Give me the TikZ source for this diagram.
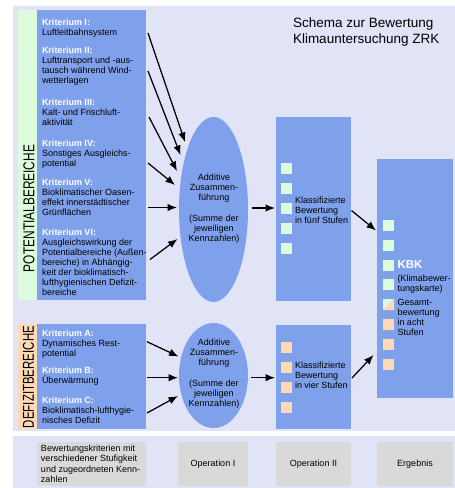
\documentclass[tikz,border=0pt]{standalone}
\usepackage{fontspec}
\usepackage{graphicx}
\setmainfont{Liberation Sans}
\usetikzlibrary{arrows.meta,shapes.geometric}
\definecolor{lav}{HTML}{E1E3F7}
\definecolor{bluebox}{HTML}{7FA0EA}
\definecolor{pgreen}{HTML}{DCFCDC}
\definecolor{peach}{HTML}{FDD9B5}
\definecolor{grayb}{HTML}{D9D9D9}
\newcommand{\hdr}[1]{\textbf{\textcolor{white}{#1}}}
\begin{document}
\begin{tikzpicture}[x=1pt,y=-1pt,
  panel/.style={fill=#1, inner sep=0pt, outer sep=0pt, anchor=north west, draw=none},
  ovalshape/.style={ellipse, fill=bluebox, inner sep=0pt, outer sep=0pt, draw=none, minimum width=69pt},
  txt/.style={inner sep=0pt, outer sep=0pt, align=left, anchor=base west, font=\fontsize{9}{10}\selectfont},
  ctxt/.style={inner sep=0pt, outer sep=0pt, align=center, anchor=base, font=\fontsize{9}{10}\selectfont},
  arr/.style={draw, line width=1.25pt, -{Latex[length=9.5pt,width=7.5pt]}}
]
\useasboundingbox (0,0) rectangle (455,488);

% panels
\node[panel=lav, minimum width=442pt, minimum height=425pt] (toppanel) at (13,6) {};
\node[panel=lav, minimum width=442pt, minimum height=52pt] (botpanel) at (13,436) {};

% left column
\node[panel=pgreen, minimum width=19pt, minimum height=290pt] (gstrip) at (18,10) {};
\node[panel=bluebox, minimum width=109pt, minimum height=290pt] (critP) at (37,10) {};
\node[panel=peach, minimum width=19pt, minimum height=105pt] (ostrip) at (18,324) {};
\node[panel=bluebox, minimum width=109pt, minimum height=105pt] (critD) at (37,324) {};

\node[rotate=90, inner sep=0pt] (plabel) at (29,208.5) {\resizebox{127pt}{11pt}{POTENTIALBEREICHE}};
\node[rotate=90, inner sep=0pt] (dlabel) at (28.5,377) {\resizebox{102pt}{11pt}{DEFIZITBEREICHE}};

% criteria texts (anchor = baseline of last line)
\node[txt] (k1) at (42,35.3) {\hdr{Kriterium I:}\\Luftleitbahnsystem};
\node[txt] (k2) at (42,83.5) {\hdr{Kriterium II:}\\Lufttransport und -aus-\\tausch während Wind-\\wetterlagen};
\node[txt] (k3) at (42,125.3) {\hdr{Kriterium III:}\\Kalt- und Frischluft-\\aktivität};
\node[txt] (k4) at (42,166.5) {\hdr{Kriterium IV:}\\Sonstiges Ausgleichs-\\potential};
\node[txt] (k5) at (42,215.8) {\hdr{Kriterium V:}\\Bioklimatischer Oasen-\\effekt innerstädtischer\\Grünflächen};
\node[txt] (k6) at (42,295.3) {\hdr{Kriterium VI:}\\Ausgleichswirkung der\\Potentialbereiche (Außen-\\bereiche) in Abhängig-\\keit der bioklimatisch-\\lufthygienischen Defizit-\\bereiche};
\node[txt] (ka) at (42,356) {\hdr{Kriterium A:}\\Dynamisches Rest-\\potential};
\node[txt] (kb) at (42,383.8) {\hdr{Kriterium B:}\\Überwärmung};
\node[txt] (kc) at (42,423.5) {\hdr{Kriterium C:}\\Bioklimatisch-lufthygie-\\nisches Defizit};

% ellipses
\node[ovalshape, minimum height=185pt] (ell1) at (213.5,209.5) {};
\node[ovalshape, minimum height=105pt] (ell2) at (213.5,375.5) {};
\node[ctxt] (et1) at (214,241.3) {Additive\\Zusammen-\\führung\\[11pt](Summe der\\jeweiligen\\Kennzahlen)};
\node[ctxt] (et2) at (214,406.3) {Additive\\Zusammen-\\führung\\[11pt](Summe der\\jeweiligen\\Kennzahlen)};

% classification boxes
\node[panel=bluebox, minimum width=75pt, minimum height=184pt] (box5) at (276,117) {};
\node[panel=bluebox, minimum width=75pt, minimum height=104pt] (box4) at (276,325) {};
\foreach \yy in {163,183,203,223,243} \fill[pgreen] (281,\yy) rectangle ++(11,11);
\foreach \yy in {342,362,382,401.5} \fill[peach] (281,\yy) rectangle ++(11,11);
\node[txt] (kt1) at (295,223.3) {Klassifizierte\\Bewertung\\in fünf Stufen};
\node[txt] (kt2) at (295,388.3) {Klassifizierte\\Bewertung\\in vier Stufen};

% KBK box
\node[panel=bluebox, minimum width=76pt, minimum height=239pt] (kbk) at (377,159) {};
\foreach \yy in {220,239.8,259.6,279.4} \fill[pgreen] (383,\yy) rectangle ++(11,11);
\fill[pgreen] (383,299.2) -- (394,299.2) -- (383,310.2) -- cycle;
\fill[peach] (394,299.2) -- (394,310.2) -- (383,310.2) -- cycle;
\foreach \yy in {319,338.8,358.6} \fill[peach] (383,\yy) rectangle ++(11,11);
\node[txt, font=\fontsize{11.5}{12}\selectfont\bfseries, text=white] (kbkt) at (397.5,268.3) {KBK};
\node[txt] (kbk2) at (397.5,291) {(Klimabewer-\\tungskarte)};
\node[txt] (kbk3) at (397.5,335) {Gesamt-\\bewertung\\in acht\\Stufen};

% title
\node[txt, font=\fontsize{13.5}{15.6}\selectfont] (title) at (293,43.3) {Schema zur Bewertung\\Klimauntersuchung ZRK};

% bottom legend
\node[panel=grayb, minimum width=109pt, minimum height=43.5pt] (g1) at (37,442) {};
\node[panel=grayb, minimum width=70pt, minimum height=43.5pt] (g2) at (178,442) {};
\node[panel=grayb, minimum width=75pt, minimum height=43.5pt] (g3) at (276,442) {};
\node[panel=grayb, minimum width=76pt, minimum height=43.5pt] (g4) at (377,442) {};
\node[txt, font=\fontsize{9}{10.5}\selectfont] (gt1) at (41,482.5) {Bewertungskriterien mit\\verschiedener Stufigkeit\\und zugeordneten Kenn-\\zahlen};
\node[inner sep=0pt, font=\fontsize{9}{10}\selectfont] (gt2) at (g2.center) {Operation I};
\node[inner sep=0pt, font=\fontsize{9}{10}\selectfont] (gt3) at (g3.center) {Operation II};
\node[inner sep=0pt, font=\fontsize{9}{10}\selectfont] (gt4) at (g4.center) {Ergebnis};

% arrow end points
\coordinate (a1s) at (148,33);    \coordinate (a1e) at (185,142);
\coordinate (a2s) at (148,71);    \coordinate (a2e) at (180.5,155);
\coordinate (a3s) at (149,117);   \coordinate (a3e) at (177,171);
\coordinate (a4s) at (148,163);   \coordinate (a4e) at (175,185);
\coordinate (a5s) at (148,207.5); \coordinate (a5e) at (177,207.5);
\coordinate (a6s) at (150,259.5); \coordinate (a6e) at (177.5,239);
\coordinate (a7s) at (251.5,208); \coordinate (a7e) at (275,208);
\coordinate (a8s) at (351.5,210.5); \coordinate (a8e) at (376,230.5);
\coordinate (b1s) at (147,341.7); \coordinate (b1e) at (178.5,356.5);
\coordinate (b2s) at (147,377.7); \coordinate (b2e) at (178,377.7);
\coordinate (b3s) at (147,413);   \coordinate (b3e) at (178,396);
\coordinate (b4s) at (251,377.7); \coordinate (b4e) at (275,377.7);
\coordinate (b5s) at (352,378);   \coordinate (b5e) at (373.5,355);

\foreach \p in {a1,a2,a3,a4,a5,a6,a7,a8,b1,b2,b3,b4,b5}
  \draw[arr] (\p s) -- (\p e);
\end{tikzpicture}
\end{document}
